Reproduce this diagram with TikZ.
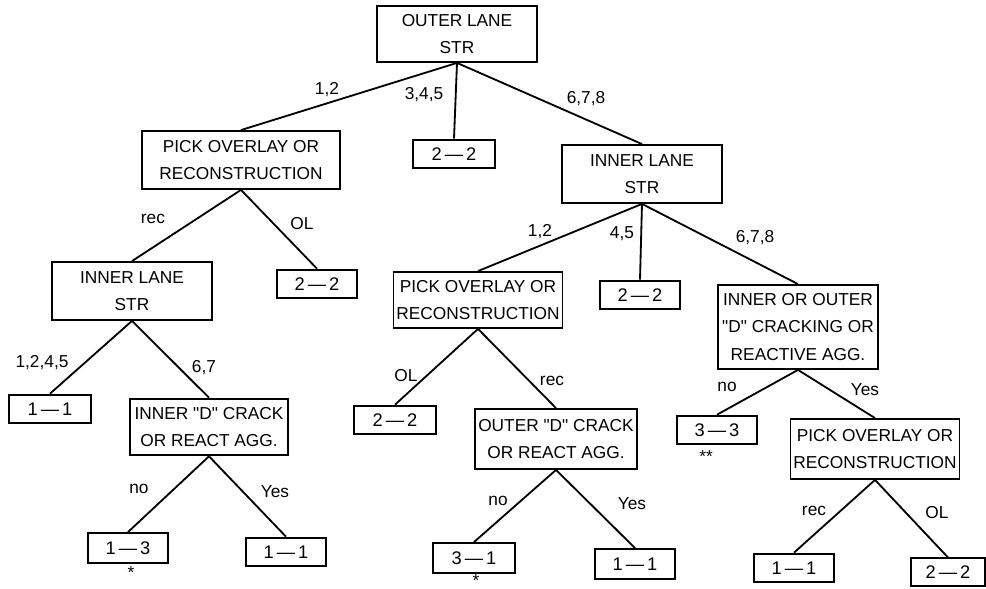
\documentclass[tikz,border=0pt]{standalone}
\usepackage{fontspec}
\setmainfont{Liberation Sans}
\newcommand{\rt}[2]{#1\,---\,#2}
\newcommand{\qD}{\textquotedbl D\textquotedbl}

\begin{document}
\begin{tikzpicture}[font=\fontsize{12.3}{19.5}\selectfont,line width=1.3pt,
  query/.style={draw,align=center,minimum width=4cm,minimum height=1.45cm,inner sep=2pt},
  rating/.style={draw,minimum width=2cm,minimum height=0.72cm,inner sep=2pt,font=\fontsize{13}{15}\selectfont},
  branch/.style={inner sep=1pt}]
\useasboundingbox (0,0) rectangle (24.65,14.725);
% decision boxes
\node[query,minimum height=1.4cm] (outer) at (11.425,13.875) {OUTER LANE\\STR};
\node[query,minimum width=4.95cm] (pickA) at (6.025,10.725) {PICK OVERLAY OR\\RECONSTRUCTION};
\node[query] (innerR) at (16.05,10.375) {INNER LANE\\STR};
\node[query] (innerL) at (3.3,7.45) {INNER LANE\\STR};
\node[query,minimum width=4.1cm,minimum height=1.4cm] (pickB) at (11.95,7.225) {PICK OVERLAY OR\\RECONSTRUCTION};
\node[query,minimum height=2.1cm] (crackR) at (19.95,6.55) {INNER OR OUTER\\\qD{} CRACKING OR\\REACTIVE AGG.};
\node[query,minimum width=3.95cm,minimum height=1.42cm] (crackA) at (5.225,4.05) {INNER \qD{} CRACK\\OR REACT AGG.};
\node[query,minimum width=4.05cm,minimum height=1.5cm] (crackB) at (13.9,3.75) {OUTER \qD{} CRACK\\OR REACT AGG.};
\node[query,minimum height=1.5cm] (pickC) at (21.875,3.5) {PICK OVERLAY OR\\RECONSTRUCTION};
% result boxes
\node[rating,minimum width=2.05cm] (midA) at (11.35,10.875) {\rt22};
\node[rating] (olA) at (7.925,7.625) {\rt22};
\node[rating] (olB) at (16.0,7.35) {\rt22};
\node[rating,minimum width=2.05cm] (resA) at (1.25,4.5) {\rt11};
\node[rating,minimum width=2.05cm] (olC) at (9.875,4.225) {\rt22};
\node[rating] (resB) at (17.925,3.975) {\rt33};
\node[rating,minimum height=0.75cm] (resC) at (3.2,1.025) {\rt13};
\node[rating] (resD) at (7.15,0.925) {\rt11};
\node[rating,minimum width=2.05cm,minimum height=0.75cm] (resE) at (11.85,0.775) {\rt31};
\node[rating,minimum height=0.75cm] (resF) at (15.875,0.625) {\rt11};
\node[rating] (resG) at (19.85,0.525) {\rt11};
\node[rating,minimum width=1.85cm,minimum height=0.68cm] (resH) at (23.7,0.425) {\rt22};
% footnote marks
\node[branch] (starC) at (3.275,0.4) {*};
\node[branch] (starB) at (17.65,3.3) {**};
\node[branch] (starE) at (11.9,0.21) {*};
% connectors
\foreach \from/\to in {outer/pickA,outer/midA,outer/innerR,
    pickA/innerL,pickA/olA,innerR/pickB,innerR/olB,innerR/crackR,
    innerL/resA,innerL/crackA,pickB/olC,pickB/crackB,
    crackR/resB,crackR/pickC,crackA/resC,crackA/resD,
    crackB/resE,crackB/resF,pickC/resG,pickC/resH}
  \draw (\from.south) -- (\to.north);
% branch labels
\node[branch] (bOa) at (8.175,12.475) {1,2};
\node[branch] (bOb) at (10.6,12.35) {3,4,5};
\node[branch] (bOc) at (14.65,12.25) {6,7,8};
\node[branch] (bPa) at (3.825,9.25) {rec};
\node[branch] (bPb) at (7.55,9.125) {OL};
\node[branch] (bIa) at (13.5,8.925) {1,2};
\node[branch] (bIb) at (15.55,8.875) {4,5};
\node[branch] (bIc) at (18.875,8.775) {6,7,8};
\node[branch] (bLa) at (1.05,5.65) {1,2,4,5};
\node[branch] (bLb) at (5.1,5.525) {6,7};
\node[branch] (bQa) at (10.15,5.325) {OL};
\node[branch] (bQb) at (13.8,5.2) {rec};
\node[branch] (bRa) at (18.175,5.05) {no};
\node[branch] (bRb) at (21.625,4.975) {Yes};
\node[branch] (bAa) at (3.475,2.5) {no};
\node[branch] (bAb) at (6.875,2.425) {Yes};
\node[branch] (bBa) at (12.45,2.2) {no};
\node[branch] (bBb) at (15.8,2.125) {Yes};
\node[branch] (bCa) at (20.35,1.95) {rec};
\node[branch] (bCb) at (23.425,1.9) {OL};
\end{tikzpicture}
\end{document}
